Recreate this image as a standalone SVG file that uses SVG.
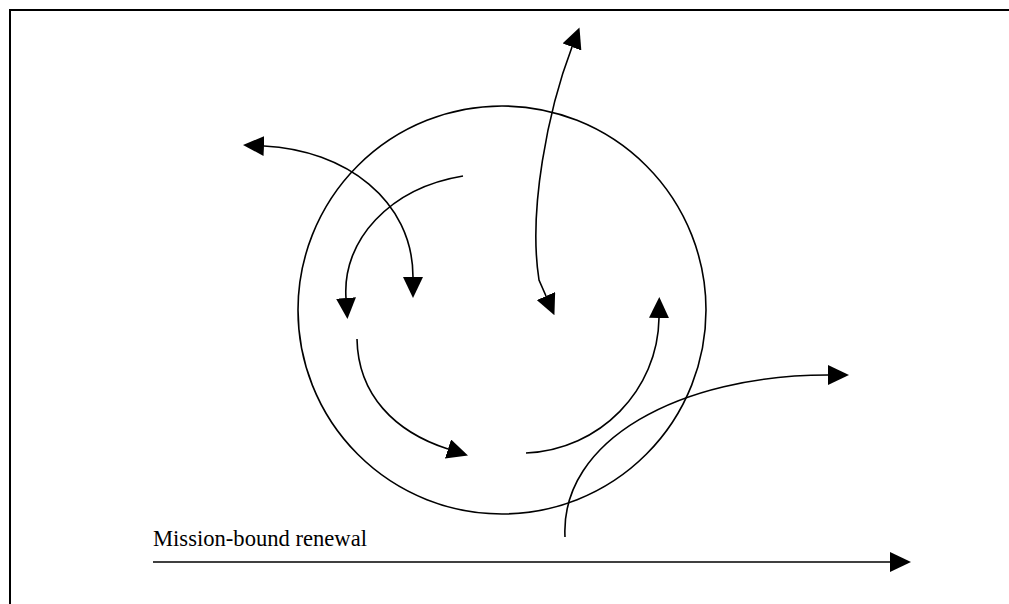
<svg xmlns="http://www.w3.org/2000/svg" width="1009" height="604" viewBox="0 0 1009 604">
  <style>
    .frame { fill: none; stroke: #000; stroke-width: 2; }
    .ring { fill: none; stroke: #000; stroke-width: 1.6; }
    .conn { fill: none; stroke: #000; stroke-width: 1.6; }
    .lbl { font-family: "Liberation Serif", "Times New Roman", serif; font-size: 22.6px; fill: #000; }
  </style>
  <defs>
    <marker id="ah" markerUnits="userSpaceOnUse" markerWidth="21" markerHeight="20" viewBox="0 0 21 20" refX="0" refY="10" orient="auto-start-reverse">
      <path d="M0,0 L21,10 L0,20 z" fill="#000"/>
    </marker>
  </defs>
  <rect class="frame" x="10" y="10" width="1020" height="620"/>
  <g id="circle">
    <circle class="ring" cx="502" cy="310" r="204"/>
  </g>
  <g id="label">
    <text class="lbl" x="153" y="546">Mission-bound renewal</text>
  </g>
  <g id="connectors">
    <path class="conn" d="M264,146 C345,150 413,200 413,277" marker-start="url(#ah)" marker-end="url(#ah)"/>
    <path class="conn" d="M463,176 C390,188 342,240 346,298" marker-end="url(#ah)"/>
    <path class="conn" d="M572,47 C548,110 528,210 539,280 L546,296" marker-start="url(#ah)" marker-end="url(#ah)"/>
    <path class="conn" d="M357,339 C358,395 395,432 448,449" marker-end="url(#ah)"/>
    <path class="conn" d="M526,453 C600,450 658,390 659,318" marker-end="url(#ah)"/>
    <path class="conn" d="M565,537 C560,440 680,375 828,375" marker-end="url(#ah)"/>
    <path class="conn" d="M153,562 L890,562" marker-end="url(#ah)"/>
  </g>
</svg>
